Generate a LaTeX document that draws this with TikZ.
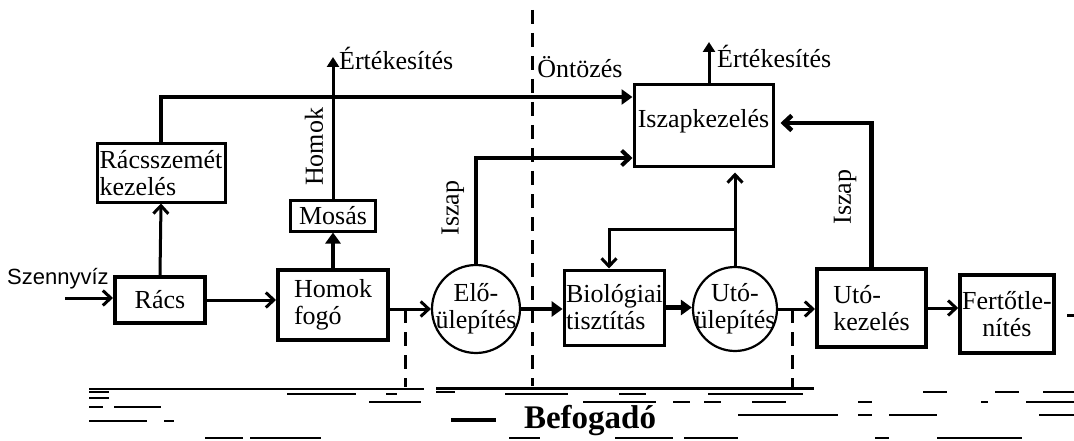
\documentclass[tikz,border=0pt]{standalone}
\usepackage{fontspec}
\setmainfont{Liberation Serif}
\newfontfamily\sansfont{Liberation Sans}
\usetikzlibrary{arrows.meta,calc}
\begin{document}
\begin{tikzpicture}[x=1pt,y=-1pt,
  txt/.style={font=\fontsize{26}{27}\selectfont},
  box/.style={draw, line width=3pt, inner sep=2pt, txt},
  tbox/.style={box, line width=4pt},
  tank/.style={draw, circle, line width=2.2pt, minimum size=88pt, inner sep=0pt},
  flow/.style={line width=3pt, -{Straight Barb[length=8pt,width=15pt]}},
  heavy/.style={line width=4.5pt, -{Triangle[length=11pt,width=15pt]}},
  plain/.style={line width=3pt},
  outfall/.style={line width=3pt, dash pattern=on 14pt off 9pt},
  water/.style={line width=2.5pt},
  lbl/.style={txt, inner sep=0pt},
]
\useasboundingbox (0,0) rectangle (1074,441);

% process units
\node[lbl, font=\sansfont\fontsize{22}{24}\selectfont, anchor=west] (szv) at (7,279) {Szennyvíz};
\node[tbox, minimum width=90pt, minimum height=46pt] (racs) at (160,300) {Rács};
\node[box, minimum width=128pt, minimum height=58pt, align=left] (rsz) at (161,173) {Rácsszemét\\kezelés};
\node[tbox, minimum width=110pt, minimum height=70pt, align=left] (hf) at (333,305) {Homok\\fogó};
\node[box, minimum width=85pt, minimum height=31pt] (mosas) at (333,215.5) {Mosás};
\node[tank] (elo) at (476,309) {};
\node[lbl, align=center] (elot) at (elo.center) {Elő-\\ülepítés};
\node[box, minimum width=99pt, minimum height=75pt, align=left] (bio) at (614.5,307.5) {Biológiai\\tisztítás};
\node[tank, minimum size=84pt] (uto) at (735,309) {};
\node[lbl, align=center] (utot) at (uto.center) {Utó-\\ülepítés};
\node[tbox, minimum width=109pt, minimum height=78pt, align=left] (utok) at (871.5,308) {Utó-\\kezelés};
\node[tbox, minimum width=92pt, minimum height=78pt, align=center] (fert) at (1007,314) {Fertőtle-\\nítés};
\node[box, minimum width=139pt, minimum height=82pt] (isz) at (703.5,126) {};
\node[lbl] (iszt) at (703.5,121) {Iszapkezelés};

% free labels
\node[lbl, anchor=west] (ert1) at (339,58) {Értékesítés};
\node[lbl, anchor=west] (ert2) at (717,56) {Értékesítés};
\node[lbl] (ontoz) at (580,67) {Öntözés};
\node[lbl, rotate=90] (lhomok) at (314,147) {Homok};
\node[lbl, rotate=90] (liszap1) at (453,208) {Iszap};
\node[lbl, rotate=90] (liszap2) at (845,197) {Iszap};
\node[lbl, font=\bfseries\fontsize{33}{35}\selectfont] (befog) at (590,421) {Befogadó};

% helper coordinates
\coordinate (src) at (65,298);
\coordinate (ytop) at (0,97);
\coordinate (yisz) at (0,158);
\coordinate (yret) at (0,123);
\coordinate (fbx) at (609,229);
\coordinate (sold1) at (333,57);
\coordinate (sold2) at (709,42);
\coordinate (d1) at (405,309);
\coordinate (d2) at (792,309);
\coordinate (ybot) at (0,387);
\coordinate (divtop) at (532,10);
\coordinate (divbot) at (532,386);
\coordinate (stub) at (1067,315);

% flow lines
\draw[flow] (src) -- (src -| racs.west);
\draw[flow] (racs.east) -- (racs.east -| hf.west);
\draw[flow] (racs.north) -- (rsz.south);
\draw[line width=4.5pt, -{Triangle[length=11pt,width=15pt]}] (rsz.north) |- (isz.west |- ytop);
\draw[heavy, line width=4pt] (hf.north) -- (mosas.south);
\draw[line width=3pt, -{Triangle[length=10pt,width=12pt]}] (mosas.north) -- (sold1);
\draw[flow] (hf.east |- elo.west) -- (elo.west);
\draw[outfall] (d1) -- (d1 |- ybot);
\draw[flow, line width=4pt] (elo.north) |- (isz.west |- yisz);
\draw[heavy] (elo.east) -- (elo.east -| bio.west);
\draw[heavy] (bio.east) -- (bio.east -| uto.west);
\draw[flow, shorten >=4pt] (uto.north) -- (uto.north |- isz.south);
\draw[flow] (uto.north |- fbx) -| (bio.north -| fbx);
\draw[flow] (uto.east) -- (uto.east -| utok.west);
\draw[outfall] (d2) -- (d2 |- ybot);
\draw[flow, line width=4.5pt, shorten >=6pt] (utok.north) |- (isz.east |- yret);
\draw[line width=3pt, -{Triangle[length=10pt,width=12pt]}] (isz.north -| sold2) -- (sold2);
\draw[flow] (utok.east) -- (utok.east -| fert.west);
\draw[plain] (stub) -- ++(7,0);
\draw[outfall] (divtop) -- (divbot);

% receiving water surface
\draw[line width=2pt] (89,389) -- (424,389);
\draw[line width=3pt] (436,388) -- (814,388);
\foreach \a/\b/\y in {
  89/109/392, 436/455/392, 923/947/392, 995/1019/392, 1043/1074/392,
  287/356/394, 386/397/394, 505/568/394, 619/646/394, 708/803/394,
  89/109/398,
  369/421/402, 583/656/402, 673/690/402, 704/721/402, 752/786/402,
  858/872/402, 981/988/402, 1026/1074/402,
  89/103/407, 114/161/407,
  738/838/415, 858/872/415, 889/937/415, 1039/1074/415,
  89/147/421, 164/174/421,
  205/243/438, 250/321/438, 509/540/438, 615/673/438, 684/738/438,
  875/889/438, 937/1022/438}
  \draw[water] (\a,\y) -- (\b,\y);
\draw[line width=3.5pt] (451,420) -- (496,420);
\end{tikzpicture}
\end{document}
